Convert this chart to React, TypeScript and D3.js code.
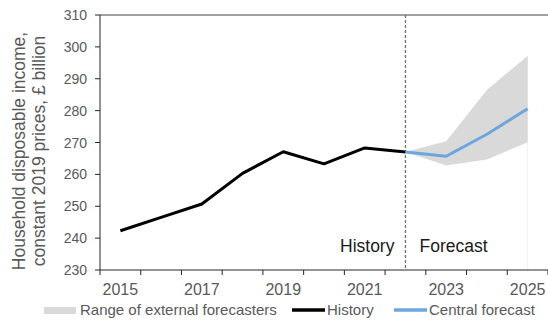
import * as d3 from 'd3'

const years = ['2015', '2016', '2017', '2018', '2019', '2020', '2021', '2022', '2023', '2024', '2025']
const history = [242.3, 246.5, 250.7, 260.3, 267.1, 263.3, 268.3, 267.0]
const centralYears = ['2022', '2023', '2024', '2025']
const central = [267.0, 265.7, 272.6, 280.6]
const rangeLow = [267.0, 262.8, 264.7, 270.1]
const rangeHigh = [267.0, 270.4, 286.5, 297.2]
const yTicks = [230, 240, 250, 260, 270, 280, 290, 300, 310]
const xLabels = ['2015', '2017', '2019', '2021', '2023', '2025']

const W = 548
const H = 320
const left = 100
const right = 548
const top = 15
const bottom = 270
const font = 'Liberation Sans, Arial, sans-serif'
const grey = '#595959'

export default function App() {
  const x = d3.scaleBand<string>().domain(years).range([left, right]).padding(0)
  const y = d3.scaleLinear().domain([230, 310]).range([bottom, top])
  const cx = (yr: string) => (x(yr) ?? 0) + x.bandwidth() / 2

  const histLine = d3
    .line<number>()
    .x((_, i) => cx(years[i]))
    .y((d) => y(d))
  const centralLine = d3
    .line<number>()
    .x((_, i) => cx(centralYears[i]))
    .y((d) => y(d))
  const area = d3
    .area<number>()
    .x((_, i) => cx(centralYears[i]))
    .y0((_, i) => y(rangeLow[i]))
    .y1((d) => y(d))

  const splitX = cx('2022')
  const lastX = cx('2025')
  const boundaries = years.map((yr) => x(yr) ?? 0).concat([right])

  return (
    <svg
      width={W}
      height={H}
      style={{ position: 'absolute', left: 0, top: 0, fontFamily: font }}
    >
      <rect width={W} height={H} fill="#fff" />
      <line x1={lastX} x2={lastX} y1={y(rangeHigh[3])} y2={bottom} stroke="#f0f0f0" />
      <path d={area(rangeHigh) ?? ''} fill="#d9d9d9" />
      <line x1={left} x2={right} y1={top} y2={top} stroke="#404040" strokeWidth={1} />
      <line
        x1={splitX}
        x2={splitX}
        y1={top}
        y2={bottom}
        stroke="#6f6f6f"
        strokeWidth={1.3}
        strokeDasharray="3,2"
      />
      <path d={histLine(history) ?? ''} fill="none" stroke="#000" strokeWidth={3} strokeLinejoin="round" />
      <path d={centralLine(central) ?? ''} fill="none" stroke="#6ca6de" strokeWidth={3} strokeLinejoin="round" />

      {/* y axis */}
      <line x1={left} x2={left} y1={top} y2={bottom} stroke="#262626" />
      {yTicks.map((t) => (
        <g key={t}>
          <line x1={left - 5} x2={left} y1={y(t)} y2={y(t)} stroke="#262626" />
          <text x={left - 13} y={y(t) + 5} textAnchor="end" fontSize={14} fill={grey}>
            {t}
          </text>
        </g>
      ))}

      {/* x axis */}
      <line x1={left} x2={right} y1={bottom} y2={bottom} stroke="#262626" />
      {boundaries.map((b, i) => (
        <line key={i} x1={b} x2={b} y1={bottom} y2={bottom + 5} stroke="#262626" />
      ))}
      {xLabels.map((l) => (
        <text key={l} x={cx(l)} y={295} textAnchor="middle" fontSize={16} fill={grey}>
          {l}
        </text>
      ))}

      <text x={splitX - 11} y={252} textAnchor="end" fontSize={17.5} fill="#1a1a1a">
        History
      </text>
      <text x={splitX + 14} y={252} fontSize={17.5} fill="#1a1a1a">
        Forecast
      </text>

      {/* y title */}
      <g transform="translate(25,151) rotate(-90)" fontSize={17.5} fill={grey} textAnchor="middle">
        <text x={0} y={0}>Household disposable income,</text>
        <text x={0} y={20}>constant 2019 prices, £ billion</text>
      </g>

      {/* legend */}
      <rect x={44} y={307} width={32} height={7} fill="#d9d9d9" />
      <text x={80} y={315} fontSize={15} fill={grey}>
        Range of external forecasters
      </text>
      <line x1={292} x2={325} y1={310} y2={310} stroke="#000" strokeWidth={3.5} />
      <text x={327} y={315} fontSize={15} fill={grey}>
        History
      </text>
      <line x1={394} x2={427} y1={310} y2={310} stroke="#6ca6de" strokeWidth={3.5} />
      <text x={429} y={315} fontSize={15} fill={grey}>
        Central forecast
      </text>
    </svg>
  )
}
